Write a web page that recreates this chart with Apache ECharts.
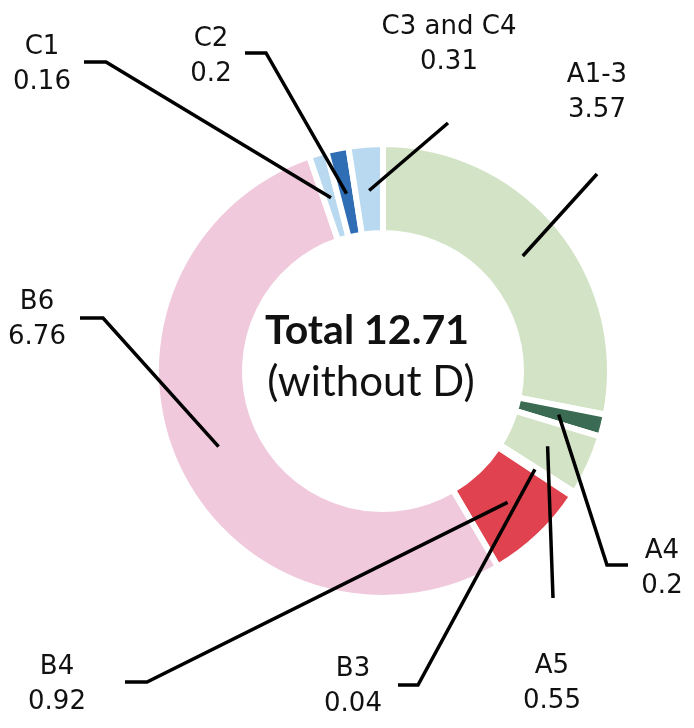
<!DOCTYPE html>
<html>
<head>
<meta charset="utf-8">
<script src="https://cdn.jsdelivr.net/npm/echarts@6/dist/echarts.min.js"></script>
<style>
    html, body { margin: 0; padding: 0; background: #fff; }
    #pie_echart { width: 694px; height: 728px; }
</style>
</head>
<body>
<div id="pie_echart"></div>
<script>
    // 数据
    const categories = ['A1-3', 'A4', 'A5', 'B3', 'B4', 'B6', 'C1', 'C2', 'C3 and C4'];
    const values = [3.57, 0.2, 0.55, 0.04, 0.92, 6.76, 0.16, 0.2, 0.31];
    const totalText = 'Total 12.71';
    const subText = '(without D)';

    // 样式 / 布局
    const colors = ['#d3e4c6', '#3b6c53', '#d3e4c6', '#b8323c', '#e0434f', '#f0c9dc', '#b8d9f0', '#2f6db4', '#b8d9f0'];
    const labelPos = [[597, 93], [662, 569], [552, 684], [353, 687], [57, 685], [37, 320], [42, 65], [211, 57], [449, 45]];
    const linePts = [
        [[597, 174], [597, 174]],
        [[607, 565], [628, 565]],
        [[553, 598], [553, 598]],
        [[418, 685], [398, 685]],
        [[147, 682], [125, 682]],
        [[103, 318], [80, 318]],
        [[106, 62], [84, 62]],
        [[266, 53], [245, 53]],
        [[448, 123], [448, 123]]
    ];
    const center = [383, 371];

    let myChart = echarts.init(document.getElementById('pie_echart'));
    let data = categories.map((name, i) => ({value: values[i], name: name}));

    myChart.setOption({
        animation: false,
        color: colors,
        graphic: [
            {
                type: 'text', x: 367, y: 331, z: 10,
                style: {text: totalText, font: 'bold 41px Lato', fill: '#111', align: 'center', verticalAlign: 'middle'}
            },
            {
                type: 'text', x: 371, y: 382, z: 10,
                style: {text: subText, font: '42px Lato', fill: '#111', align: 'center', verticalAlign: 'middle'}
            }
        ],
        series: [
            {
                type: 'pie',
                z: 2,
                center: center,
                radius: [138, 227],
                startAngle: 90,
                clockwise: true,
                silent: true,
                label: {show: false},
                labelLine: {show: false},
                itemStyle: {borderColor: '#fff', borderWidth: 6},
                data: data
            },
            {
                // 透明层，仅用于标签和引导线
                type: 'pie',
                z: 5,
                center: center,
                radius: [0, 181],
                startAngle: 90,
                clockwise: true,
                silent: true,
                avoidLabelOverlap: false,
                itemStyle: {color: 'rgba(0,0,0,0)'},
                label: {
                    show: true,
                    position: 'outside',
                    formatter: '{b}\n{c}',
                    color: '#111',
                    fontFamily: 'DejaVu Sans',
                    fontSize: 26,
                    lineHeight: 35
                },
                labelLine: {
                    show: true,
                    length: 10,
                    length2: 10,
                    lineStyle: {color: '#000', width: 3.5}
                },
                labelLayout: function (params) {
                    let i = params.dataIndex;
                    let pts = params.labelLinePoints;
                    return {
                        x: labelPos[i][0],
                        y: labelPos[i][1],
                        align: 'center',
                        verticalAlign: 'middle',
                        labelLinePoints: [pts[0], linePts[i][0], linePts[i][1]]
                    };
                },
                data: data
            }
        ]
    });
</script>
</body>
</html>
